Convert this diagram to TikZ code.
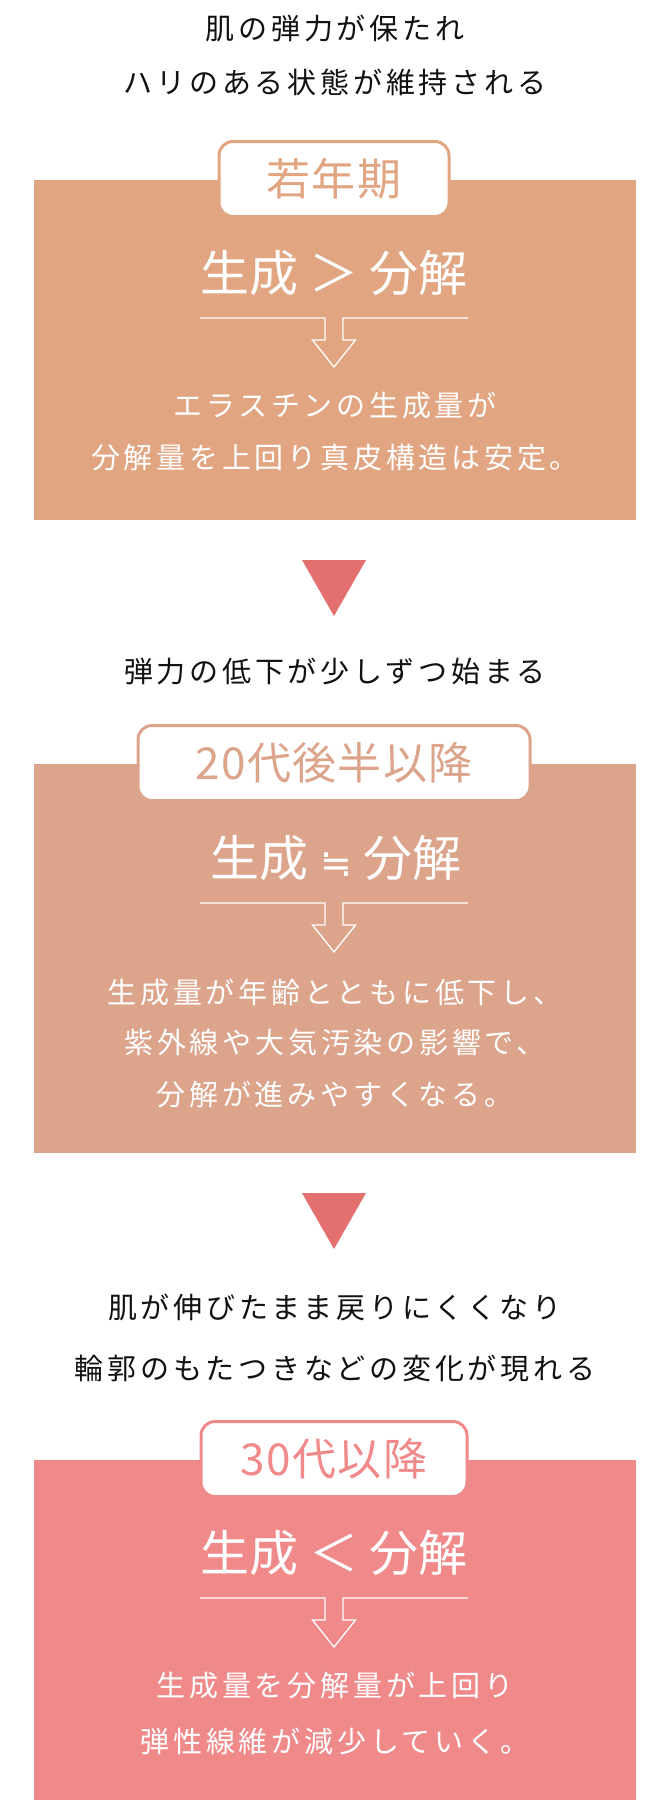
\documentclass[tikz,border=0pt]{standalone}
\usepackage{fontspec}
\setmainfont{Noto Sans CJK JP}
\newfontfamily\captfont[LetterSpace=13]{Noto Sans CJK JP}
\newfontfamily\bodyfont[LetterSpace=13]{Noto Sans CJK JP}
\newfontfamily\tabfont[LetterSpace=3]{Noto Sans CJK JP}
\newfontfamily\bigfont{Noto Sans CJK JP}
\newfontfamily\symfont{DejaVu Sans}
\definecolor{cA}{HTML}{E1A582}
\definecolor{cB}{HTML}{DBA48B}
\definecolor{cC}{HTML}{F08A8A}
\definecolor{tri}{HTML}{E36F6F}
\definecolor{ink}{HTML}{111111}
\tikzset{
  caption/.style={font=\captfont\fontsize{29}{29}\selectfont, text=ink, inner sep=0pt},
  bodytext/.style={font=\bodyfont\fontsize{29}{29}\selectfont, text=white, inner sep=0pt},
  bigtext/.style={font=\bigfont\fontsize{49}{49}\selectfont, text=white, inner sep=0pt},
  tabbox/.style={draw=#1, fill=white, line width=3pt, rounded corners=14pt, minimum height=75pt, inner sep=0pt, text=#1, font=\tabfont\fontsize{44}{44}\selectfont},
  panel/.style={fill=#1, draw=none, inner sep=0pt, minimum width=602pt, anchor=north west},
  hollow/.style={draw=white, line width=1.3pt, line join=miter},
  marker/.style={fill=tri, draw=none},
}
\begin{document}
\begin{tikzpicture}[x=1pt,y=-1pt]
\useasboundingbox (0,0) rectangle (670,1800);
% top captions
\node[caption] (cap1) at (335,28) {肌の弾力が保たれ};
\node[caption] (cap2) at (335,82) {ハリのある状態が維持される};
% panel 1
\node[panel=cA, minimum height=340pt] (p1) at (34,180) {};
\node[tabbox=cA, minimum width=230pt] (t1) at (334,179) {若年期};
\node[bigtext] (b1) at (334,273) {生成 ＞ 分解};
\coordinate (a1) at (334,318);
\draw[hollow] ([xshift=-134pt]a1) -- ++(125,0) -- ++(0,22) -- ++(-12.5,0) -- ++(21.5,27) -- ++(21.5,-27) -- ++(-12.5,0) -- ++(0,-22) -- ++(125,0);
\node[bodytext] (d11) at (335,405) {エラスチンの生成量が};
\node[bodytext] (d12) at (335,458) {分解量を上回り真皮構造は安定。};
% marker 1
\coordinate (m1) at (334,560);
\fill[marker] (m1) ++(-32,0) -- ++(64,0) -- ++(-32,56) -- cycle;
\node[caption] (cap3) at (335,671) {弾力の低下が少しずつ始まる};
% panel 2
\node[panel=cB, minimum height=389pt] (p2) at (34,764) {};
\node[tabbox=cB, minimum width=392pt] (t2) at (334,763) {20代後半以降};
\node[bigtext] (b2) at (336,858) {生成\hspace{12pt}{\symfont\fontsize{38}{38}\selectfont ≒}\hspace{12pt}分解};
\coordinate (a2) at (334,903);
\draw[hollow] ([xshift=-134pt]a2) -- ++(125,0) -- ++(0,22) -- ++(-12.5,0) -- ++(21.5,27) -- ++(21.5,-27) -- ++(-12.5,0) -- ++(0,-22) -- ++(125,0);
\node[bodytext] (d21) at (335,992) {生成量が年齢とともに低下し、};
\node[bodytext] (d22) at (335,1043) {紫外線や大気汚染の影響で、};
\node[bodytext] (d23) at (335,1094) {分解が進みやすくなる。};
% marker 2
\coordinate (m2) at (334,1193);
\fill[marker] (m2) ++(-32,0) -- ++(64,0) -- ++(-32,56) -- cycle;
\node[caption] (cap4) at (335,1307) {肌が伸びたまま戻りにくくなり};
\node[caption] (cap5) at (335,1368) {輪郭のもたつきなどの変化が現れる};
% panel 3
\node[panel=cC, minimum height=340pt] (p3) at (34,1460) {};
\node[tabbox=cC, minimum width=266pt] (t3) at (334,1459) {30代以降};
\node[bigtext] (b3) at (334,1553) {生成 ＜ 分解};
\coordinate (a3) at (334,1598);
\draw[hollow] ([xshift=-134pt]a3) -- ++(125,0) -- ++(0,22) -- ++(-12.5,0) -- ++(21.5,27) -- ++(21.5,-27) -- ++(-12.5,0) -- ++(0,-22) -- ++(125,0);
\node[bodytext] (d31) at (335,1685) {生成量を分解量が上回り};
\node[bodytext] (d32) at (335,1741) {弾性線維が減少していく。};
\end{tikzpicture}
\end{document}
